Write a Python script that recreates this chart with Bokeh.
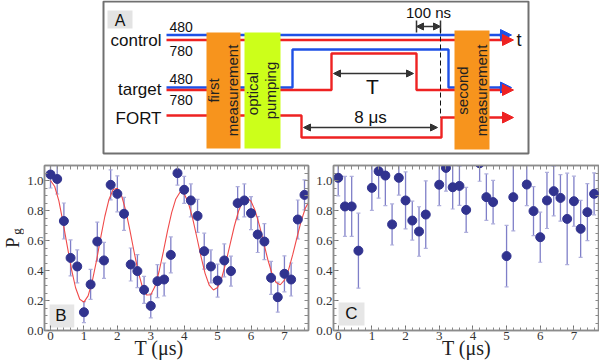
import math
from bokeh.plotting import figure
from bokeh.models import (Range1d, LinearAxis, SingleIntervalTicker, FixedTicker,
                          PrintfTickFormatter, Label, Arrow, NormalHead, BoxAnnotation)
from bokeh.layouts import column, row
from bokeh.embed import file_html
from bokeh.resources import INLINE
from bokeh.core.properties import value

SANS = "Liberation Sans"
SERIF = "Liberation Serif"

# ---------------- Panel B data ----------------
b_t = [0.0, 0.2, 0.4, 0.6, 0.8, 1.0, 1.2, 1.4, 1.6, 1.8, 2.0, 2.2, 2.4, 2.6, 2.8,
       3.0, 3.2, 3.4, 3.6, 3.8, 4.0, 4.2, 4.4, 4.6, 4.8, 5.0, 5.2, 5.4, 5.6, 5.8,
       6.0, 6.2, 6.4, 6.6, 6.8, 7.0, 7.2, 7.4, 7.6]
b_pg = [1.04, 1.01, 0.73, 0.484, 0.427, 0.122, 0.307, 0.593, 0.467, 0.971,
        0.911, 0.778, 0.44, 0.396, 0.271, 0.164, 0.329, 0.34, 0.504, 1.049,
        0.938, 0.867, 0.764, 0.529, 0.427, 0.333, 0.467, 0.396, 0.849, 0.867,
        0.782, 0.64, 0.593, 0.351, 0.222, 0.378, 0.34, 0.74, 0.904]
b_err = [0.09, 0.1, 0.12, 0.12, 0.11, 0.07, 0.1, 0.13, 0.12, 0.1,
         0.12, 0.11, 0.11, 0.11, 0.09, 0.08, 0.11, 0.11, 0.12, 0.08,
         0.09, 0.11, 0.11, 0.12, 0.11, 0.11, 0.11, 0.1, 0.11, 0.11,
         0.11, 0.12, 0.12, 0.11, 0.1, 0.12, 0.11, 0.13, 0.1]

fit_t = [0.0, 0.125, 0.25, 0.375, 0.5, 0.625, 0.75, 0.875, 1.0, 1.125, 1.25, 1.375,
         1.5, 1.625, 1.75, 1.875, 2.0, 2.125, 2.25, 2.375, 2.5, 2.625, 2.75, 2.875,
         3.0, 3.125, 3.25, 3.375, 3.5, 3.625, 3.75, 3.875, 4.0, 4.125, 4.25, 4.375,
         4.5, 4.625, 4.75, 4.875, 5.0, 5.125, 5.25, 5.375, 5.5, 5.625, 5.75, 5.875,
         6.0, 6.125, 6.25, 6.375, 6.5, 6.625, 6.75, 6.875, 7.0, 7.125, 7.25, 7.375,
         7.5, 7.625, 7.75]
fit_pg = [1.0, 0.960, 0.864, 0.721, 0.564, 0.411, 0.285, 0.208, 0.189, 0.231, 0.329, 0.464,
          0.617, 0.760, 0.874, 0.940, 0.949, 0.899, 0.801, 0.669, 0.525, 0.391, 0.290, 0.237,
          0.238, 0.293, 0.395, 0.524, 0.663, 0.786, 0.877, 0.922, 0.912, 0.851, 0.751, 0.625,
          0.496, 0.381, 0.302, 0.270, 0.287, 0.352, 0.455, 0.576, 0.695, 0.795, 0.862, 0.884,
          0.862, 0.798, 0.703, 0.589, 0.475, 0.380, 0.320, 0.305, 0.336, 0.406, 0.507, 0.620,
          0.729, 0.815, 0.866]

# ---------------- Panel C data ----------------
c_t = [0.0, 0.2, 0.4, 0.6, 1.0, 1.2, 1.4, 1.6, 1.8, 2.0, 2.2, 2.4, 2.6, 3.0, 3.2, 3.4,
       3.6, 3.8, 4.2, 4.4, 4.6, 5.0, 5.2, 5.6, 5.8, 6.0, 6.2, 6.4, 6.6, 6.8, 7.0, 7.2,
       7.4, 7.6]
c_pg = [1.018, 0.827, 0.827, 0.532, 0.951, 1.062, 1.033, 0.707, 1.018, 0.867, 0.733,
        0.66, 0.773, 0.972, 1.084, 0.955, 0.964, 0.804, 1.115, 0.889, 0.856, 0.496,
        0.889, 0.973, 0.796, 0.622, 0.867, 0.929, 0.884, 0.744, 0.862, 0.678, 0.789,
        0.911]
c_err = [0.12, 0.2, 0.2, 0.25, 0.15, 0.18, 0.2, 0.137, 0.115, 0.19, 0.13, 0.165,
         0.225, 0.14, 0.155, 0.145, 0.13, 0.15, 0.12, 0.155, 0.145, 0.205, 0.225,
         0.14, 0.163, 0.167, 0.187, 0.165, 0.155, 0.305, 0.167, 0.19, 0.19, 0.14]

# ---------------- Panel A: timing-diagram schematic (diagram units) ----------------
sig_names = ["control", "target", "FORT"]
sig_name_y = [40, 89, 118]
wl_labels = ["480", "780", "480", "780"]
wl_y = [26, 50, 78, 99]
path_xs = [[166, 503], [166, 505],
           [166, 292, 292, 448, 448, 503],
           [166, 331, 331, 416, 416, 505],
           [166, 301, 301, 441, 441, 505]]
path_ys = [[34.5, 34.5], [39.5, 39.5],
           [87, 87, 49, 49, 87, 87],
           [89.5, 89.5, 53, 53, 89.5, 89.5],
           [115, 115, 137, 137, 117, 117]]
path_kind = ["480", "780", "480", "780", "780"]
box_left = [206, 244, 454]
box_right = [240, 280, 489]
box_top = [32, 32, 30]
box_bottom = [148, 148, 149]
box_kind = ["measure", "pump", "measure"]
box_texts = ["first", "measurement", "optical", "pumping", "second", "measurement"]
box_text_x = [213, 232, 252, 270, 462, 481]
box_text_y = [90, 90, 93, 90, 90, 90]
dim_texts = ["100 ns", "T", "8 \u03bcs"]
dim_x0 = [416, 333, 303]
dim_x1 = [440, 413, 437]
dim_y = [26, 73, 127]
dim_text_x = [428, 372, 370]
dim_text_y = [12, 86, 117]

BLUE = "#1E50E6"
RED = "#EE2222"
ORANGE = "#F7941D"
LIME = "#CCFF1A"
col_of = {"480": BLUE, "780": RED, "measure": ORANGE, "pump": LIME}

# ---------------- Panel A figure ----------------
top = figure(width=599, height=158, x_range=Range1d(0, 599), y_range=Range1d(158, 0),
             x_axis_location=None, y_axis_location=None, toolbar_location=None,
             output_backend="svg", min_border=0)
top.grid.visible = False
top.outline_line_color = None
top.background_fill_color = "white"

top.quad(left=[103], right=[528], top=[1], bottom=[153], fill_color=None,
         line_color="#707070", line_width=2)
top.quad(left=[107], right=[132], top=[10], bottom=[28], fill_color="#E3E3E3", line_color=None)
top.text(x=[119.5], y=[19.5], text=["A"], text_align="center", text_baseline="middle",
         text_font=value(SANS), text_font_size="16px", text_color="#111")

top.multi_line(xs=path_xs, ys=path_ys, line_color=[col_of[k] for k in path_kind], line_width=2.4)
for xs, ys, k in zip(path_xs, path_ys, path_kind):
    c = col_of[k]
    top.add_layout(Arrow(x_start=xs[-1] - 4, y_start=ys[-1], x_end=xs[-1] + 8, y_end=ys[-1],
                         line_color=c, line_width=2.4, start=None,
                         end=NormalHead(size=11, fill_color=c, line_color=c)))

top.quad(left=box_left, right=box_right, top=box_top, bottom=box_bottom,
         fill_color=[col_of[k] for k in box_kind], line_color=None)
top.text(x=box_text_x, y=box_text_y, text=box_texts, angle=math.pi / 2,
         text_align="center", text_baseline="middle", text_font=value(SANS),
         text_font_size="15px", text_color="#222")

top.text(x=[161] * 3, y=sig_name_y, text=sig_names, text_align="right", text_baseline="middle",
         text_font=value(SANS), text_font_size="17px", text_color="#111")
top.text(x=[169] * 4, y=wl_y, text=wl_labels, text_align="left", text_baseline="middle",
         text_font=value(SANS), text_font_size="14px", text_color="#111")
top.text(x=[516], y=[39], text=["t"], text_align="left", text_baseline="middle",
         text_font=value(SANS), text_font_size="18px", text_color="#111")

for x0, x1, yy in zip(dim_x0, dim_x1, dim_y):
    top.add_layout(Arrow(x_start=x0, y_start=yy, x_end=x1, y_end=yy, line_color="#333",
                         line_width=1.5,
                         start=NormalHead(size=7, fill_color="#333", line_color="#333"),
                         end=NormalHead(size=7, fill_color="#333", line_color="#333")))
top.segment(x0=[dim_x0[0], dim_x1[0]], y0=[dim_y[0] - 6] * 2, x1=[dim_x0[0], dim_x1[0]],
            y1=[dim_y[0] + 6] * 2, line_color="#333", line_width=1.5)
top.line(x=[dim_x1[0], dim_x1[0]], y=[28, 117], line_dash="5 3", line_color="#111", line_width=1)
for t, xx, yy, fs in zip(dim_texts, dim_text_x, dim_text_y, ["15px", "21px", "17px"]):
    top.text(x=[xx], y=[yy], text=[t], text_align="center", text_baseline="middle",
             text_font=value(SANS), text_font_size=fs, text_color="#111")

# ---------------- Panels B and C ----------------
DOT = "#31338F"
BAR = "#7F7FC8"
CAP = "#AFAFDC"
FRAME = "#8C8C8C"
NBSP = "\u00a0"


def make_panel(width, xr, border_left, border_right, xlabel):
    p = figure(width=width, height=205, x_range=Range1d(*xr), y_range=Range1d(0, 1.1),
               toolbar_location=None, output_backend="svg",
               min_border_left=border_left, min_border_right=border_right,
               min_border_top=7, min_border_bottom=33)
    p.grid.visible = False
    p.outline_line_color = FRAME
    p.outline_line_width = 1.5
    p.xaxis.ticker = SingleIntervalTicker(interval=1, num_minor_ticks=5)
    p.yaxis.ticker = SingleIntervalTicker(interval=0.2, num_minor_ticks=4)
    p.yaxis.formatter = PrintfTickFormatter(format="%.1f")
    p.add_layout(LinearAxis(ticker=FixedTicker(ticks=[], minor_ticks=[i * 0.2 for i in range(-1, 41)])),
                 "above")
    p.add_layout(LinearAxis(ticker=FixedTicker(ticks=[], minor_ticks=[i * 0.05 for i in range(0, 23)])),
                 "right")
    for ax in p.axis:
        ax.major_tick_in = 5
        ax.major_tick_out = 0
        ax.minor_tick_in = 3
        ax.minor_tick_out = 0
        ax.axis_line_color = FRAME
        ax.axis_line_width = 1.5
        ax.major_tick_line_color = "#707070"
        ax.minor_tick_line_color = "#8A8A8A"
        ax.major_label_text_font = SERIF
        ax.major_label_text_font_size = "13px"
        ax.major_label_text_color = "#333"
        ax.major_label_standoff = 1
    for ax in (p.above[0], p.right[0]):
        ax.minor_tick_in = 4
    xa = p.below[0]
    xa.axis_label = xlabel
    xa.axis_label_text_font = SERIF
    xa.axis_label_text_font_style = "normal"
    xa.axis_label_text_font_size = "20px"
    xa.axis_label_text_color = "#222"
    xa.axis_label_standoff = -6
    return p


def add_points(p, t, pg, err):
    lo = [v - e for v, e in zip(pg, err)]
    hi = [v + e for v, e in zip(pg, err)]
    p.segment(x0=t, y0=lo, x1=t, y1=hi, line_color=BAR, line_width=1.3)
    p.scatter(x=t + t, y=lo + hi, marker="dash", size=4, line_color=CAP, line_width=1.2)


# strip holding the rotated y-axis title P_g
figP = figure(width=24, height=205, x_range=Range1d(0, 24), y_range=Range1d(363, 158),
              x_axis_location=None, y_axis_location=None, toolbar_location=None,
              output_backend="svg", min_border=0)
figP.grid.visible = False
figP.outline_line_color = None
figP.text(x=[11.5], y=[254], text=["P"], angle=math.pi / 2, text_align="center",
          text_baseline="middle", text_font=value(SERIF), text_font_size="19px",
          text_color="#222")
figP.text(x=[15.5], y=[240], text=["g"], angle=math.pi / 2, text_align="center",
          text_baseline="middle", text_font=value(SERIF), text_font_size="13px",
          text_color="#222")

figB = make_panel(289, (-0.18, 7.72), 18, 5, "T (\u03bcs)" + NBSP * 7)
add_points(figB, b_t, b_pg, b_err)
figB.line(fit_t, fit_pg, line_color="#F04A4A", line_width=1.1)
figB.scatter(b_t, b_pg, size=9, fill_color=DOT, line_color=DOT)
figB.add_layout(BoxAnnotation(left=-0.03, right=0.71, bottom=0.02, top=0.173,
                              fill_color="#E6E6E6", fill_alpha=1, line_color=None,
                              level="underlay"))
figB.add_layout(Label(x=0.31, y=0.097, text="B", text_align="center", text_baseline="middle",
                      text_font=SANS, text_font_size="17px", text_color="#111"))

figC = make_panel(286, (-0.14, 7.76), 19, 0, "T (\u03bcs)")
add_points(figC, c_t, c_pg, c_err)
figC.scatter(c_t, c_pg, size=9, fill_color=DOT, line_color=DOT)
figC.add_layout(BoxAnnotation(left=0.01, right=0.78, bottom=0.033, top=0.187,
                              fill_color="#E6E6E6", fill_alpha=1, line_color=None,
                              level="underlay"))
figC.add_layout(Label(x=0.39, y=0.111, text="C", text_align="center", text_baseline="middle",
                      text_font=SANS, text_font_size="17px", text_color="#111"))

layout = column(top, row(figP, figB, figC, spacing=0), spacing=0)
open("out.html", "w").write(file_html(layout, INLINE))
